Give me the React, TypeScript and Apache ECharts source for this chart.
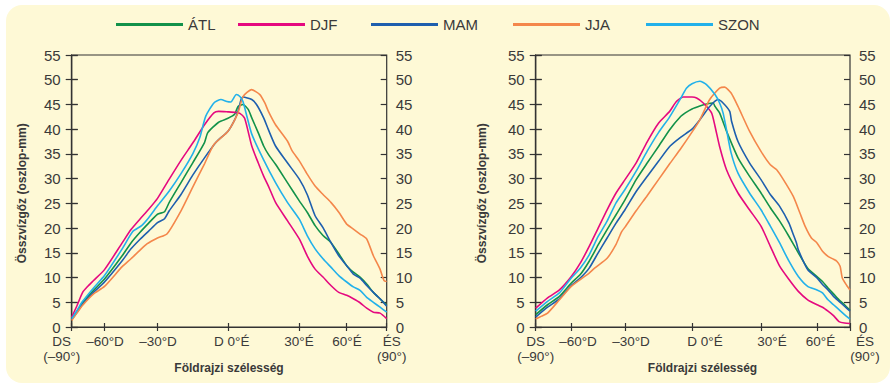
import React, { useEffect, useRef } from "react";
import * as echarts from "echarts";

// ---------- data (latitude in degrees, total water vapour in mm) ----------
const seriesNames = ["ÁTL", "DJF", "MAM", "JJA", "SZON"];

const leftATL: [number, number][] = [[-90,1.7],[-85,3.2],[-80,4.9],[-70,7.4],[-60,9.7],[-50,14.4],[-45,17.0],[-40,19.1],[-35,21.0],[-30,22.8],[-27,23.3],[-25,25.2],[-20,29.2],[-15,33.2],[-10,37.3],[-8.6,39.3],[-4,41.4],[0,42.2],[2.8,43.0],[4.2,44.6],[6.3,45.0],[8.5,44.0],[10,42.3],[12.7,39.3],[15,36.6],[17,34.9],[20,32.9],[25,29.2],[30,25.5],[35,23.2],[40,20.5],[45,18.5],[50,17.1],[55,14.8],[60,12.4],[65,11.1],[70,10.1],[75,8.7],[80,7.0],[85,5.7],[90,4.4]];
const leftDJF: [number, number][] = [[-90,2.0],[-85,4.4],[-80,7.0],[-75,8.3],[-70,9.4],[-60,11.6],[-50,17.0],[-45,19.7],[-40,21.8],[-35,23.8],[-30,26.0],[-25,29.9],[-20,33.7],[-15,37.2],[-10,40.9],[-6,43.3],[-4,43.6],[0,43.5],[3,43.4],[5,43.2],[7,42.2],[10,36.6],[12.7,33.2],[15,30.5],[17,28.5],[20,25.2],[25,21.5],[30,17.8],[35,14.4],[40,11.7],[45,10.1],[50,8.4],[55,7.0],[60,6.4],[65,5.7],[70,4.9],[75,3.8],[80,3.0],[85,2.8],[90,1.7]];
const leftMAM: [number, number][] = [[-90,1.5],[-85,3.0],[-80,4.6],[-70,7.0],[-60,9.1],[-50,13.4],[-45,15.8],[-40,17.7],[-35,19.4],[-30,21.1],[-27,21.9],[-25,23.5],[-20,26.8],[-15,30.7],[-10,34.2],[-5,37.4],[0,39.6],[2.8,41.9],[4.2,43.6],[5.5,46.0],[6.3,46.5],[10,46.0],[12,45.0],[15,42.3],[17,39.9],[20,36.6],[25,33.2],[30,29.9],[35,26.8],[40,22.5],[45,20.1],[50,17.1],[55,14.4],[60,12.4],[65,10.7],[70,9.9],[75,8.4],[80,7.0],[85,5.7],[90,4.2]];
const leftJJA: [number, number][] = [[-90,1.3],[-85,2.9],[-80,4.4],[-70,6.7],[-60,8.2],[-50,12.2],[-45,13.8],[-40,15.5],[-36,16.8],[-30,18.0],[-26,18.8],[-20,23.5],[-15,28.3],[-10,33.0],[-6,36.9],[0,39.6],[4.2,43.3],[6.3,46.6],[9.9,48.0],[13.4,47.0],[15.5,45.3],[17,43.6],[20,40.9],[25,37.6],[27,35.6],[30,33.6],[35,30.9],[40,28.5],[45,26.8],[50,25.2],[55,23.2],[60,20.8],[65,19.8],[70,18.8],[75,17.8],[80,14.4],[85,11.7],[88,9.4],[90,9.2]];
const leftSZON: [number, number][] = [[-90,1.7],[-85,3.4],[-80,5.2],[-70,7.9],[-60,10.4],[-50,15.8],[-44,19.3],[-39,20.5],[-35,22.1],[-30,24.5],[-25,27.5],[-20,31.0],[-15,35.0],[-12,38.3],[-9.5,42.6],[-6,45.3],[-3,46.0],[-0.5,45.6],[1.2,45.5],[3.5,47.0],[5,46.6],[6.3,45.6],[8,42.5],[10,39.0],[15,33.8],[20,29.2],[25,25.2],[30,21.8],[35,18.5],[40,15.8],[45,13.8],[50,12.1],[55,10.4],[60,9.1],[65,8.1],[70,7.4],[75,6.0],[80,5.0],[85,4.0],[90,3.0]];

const rightATL: [number, number][] = [[-90,2.5],[-80,4.5],[-70,6.2],[-60,8.9],[-55,10.6],[-50,13.3],[-45,16.6],[-40,19.7],[-35,22.7],[-30,25.7],[-25,29.8],[-20,33.2],[-15,36.5],[-10,39.9],[-5,42.6],[-3,43.3],[0,44.1],[3.4,44.7],[6.3,45.1],[9.2,45.3],[10,44.6],[12,43.3],[15,39.6],[20,34.2],[25,30.5],[30,27.1],[35,24.1],[40,21.4],[45,18.3],[50,15.0],[55,11.9],[60,10.2],[65,9.2],[70,7.9],[75,6.7],[80,5.5],[85,4.5],[90,3.4]];
const rightDJF: [number, number][] = [[-90,3.8],[-80,5.9],[-70,7.5],[-60,10.2],[-55,12.9],[-50,16.3],[-45,20.0],[-40,23.7],[-35,27.1],[-30,29.8],[-25,33.2],[-20,37.5],[-15,41.2],[-10,43.6],[-7,45.6],[-4,46.5],[0,46.5],[2,46.3],[4.9,45.3],[8.5,43.3],[10,40.6],[12,36.5],[15,31.8],[20,27.1],[25,23.7],[30,20.4],[35,16.3],[40,12.3],[45,9.6],[50,7.2],[55,5.5],[60,4.5],[65,4.0],[70,3.2],[75,2.3],[80,1.1],[85,0.8],[90,0.7]];
const rightMAM: [number, number][] = [[-90,2.0],[-80,4.0],[-70,5.7],[-60,8.4],[-55,9.9],[-50,11.9],[-45,15.0],[-40,18.0],[-35,21.0],[-30,23.7],[-25,27.4],[-20,30.5],[-15,33.5],[-10,36.5],[-5,38.4],[0,40.0],[3.4,41.9],[7.7,44.6],[11.3,46.0],[13.5,45.3],[16.4,43.6],[17.2,41.6],[20,37.5],[25,33.2],[30,29.8],[35,26.8],[40,24.4],[45,21.0],[47.3,18.7],[49,17.0],[50,15.6],[55,11.6],[60,9.9],[65,8.6],[70,7.5],[75,6.2],[80,5.2],[85,4.2],[90,3.2]];
const rightJJA: [number, number][] = [[-90,1.6],[-85,2.2],[-80,2.8],[-70,5.5],[-60,8.2],[-50,10.9],[-47,11.9],[-40,13.9],[-35,16.7],[-32,19.2],[-30,20.2],[-25,23.5],[-20,26.6],[-15,29.8],[-10,33.0],[-5,36.1],[0,39.4],[3.4,41.9],[7.7,46.0],[12,48.3],[14.2,48.5],[17,47.3],[20,44.6],[25,39.6],[30,35.5],[35,32.8],[38.4,31.8],[42,29.8],[47.3,26.4],[50.9,23.0],[53.6,20.4],[57,18.0],[60,17.0],[65,15.3],[70,14.3],[75,13.7],[78,13.3],[81,12.3],[83,9.9],[87,8.4],[90,7.5]];
const rightSZON: [number, number][] = [[-90,3.2],[-80,5.2],[-70,6.9],[-60,9.9],[-55,11.9],[-50,14.6],[-45,18.3],[-40,21.4],[-35,25.1],[-30,27.8],[-25,31.5],[-20,35.6],[-15,39.3],[-10,42.5],[-5,46.3],[-2.5,48.3],[0,49.2],[3.4,49.7],[6.3,49.0],[10,47.0],[12,45.3],[13.5,43.3],[15,39.9],[17,35.2],[20,31.1],[25,27.1],[30,23.7],[35,20.4],[40,17.0],[45,13.3],[50,10.2],[55,8.2],[60,7.5],[65,6.9],[70,5.5],[75,4.5],[80,3.5],[85,2.5],[90,1.6]];

const latTicks = [-90, -60, -30, 0, 30, 60, 90];
const tickLabels = ["DS\n(–90°)", "–60°D", "–30°D", "D 0°É", "30°É", "60°É", "ÉS\n(90°)"];
const yMin = 0;
const yMax = 55;
const yStep = 5;

// ---------- layout (the x axis of the original is not linear in latitude) ----------
const LEFT_TICK_POS = [0, 32.8, 85.8, 156.3, 227.6, 275, 315];
const RIGHT_TICK_POS = [0, 35.6, 89.3, 156.3, 225.3, 281.3, 314.3];
const LEFT_LABEL_POS = [0, 33.3, 86.3, 160, 227.3, 275.3, 315];
const RIGHT_LABEL_POS = [0, 42.3, 95.3, 169.3, 236.3, 284.8, 314.3];
const LEFT_END_PAD = [20, 10];
const RIGHT_END_PAD = [0, 30];

const COLORS = ["#13924a", "#e5097f", "#1e5fae", "#f4874b", "#22b1ea"];
const AXIS = "#333333";
const TEXT = "#3a3a3a";
const BG = "#fef9d6";
const FONT = '"Liberation Sans", Arial, Helvetica, sans-serif';

function latToPos(lat: number, pos: number[]) {
  for (let i = 0; i < latTicks.length - 1; i++) {
    const a = latTicks[i], b = latTicks[i + 1];
    if (lat <= b || i === latTicks.length - 2) {
      const t = (lat - a) / (b - a);
      return pos[i] + t * (pos[i + 1] - pos[i]);
    }
  }
  return pos[pos.length - 1];
}

function buildOption() {
  const charts = [
    { left: 71.7, width: 315, tickPos: LEFT_TICK_POS, labelPos: LEFT_LABEL_POS, pad: LEFT_END_PAD, data: [leftATL, leftDJF, leftMAM, leftJJA, leftSZON] },
    { left: 535.7, width: 314.3, tickPos: RIGHT_TICK_POS, labelPos: RIGHT_LABEL_POS, pad: RIGHT_END_PAD, data: [rightATL, rightDJF, rightMAM, rightJJA, rightSZON] },
  ];
  const grid: any[] = [];
  const xAxis: any[] = [];
  const yAxis: any[] = [];
  const series: any[] = [];
  const lineStyle = { color: AXIS, width: 1.2 };
  const base = { fontSize: 13.5, color: TEXT, fontFamily: FONT, lineHeight: 15 };

  charts.forEach((c, gi) => {
    grid.push({ left: c.left, top: 55, width: c.width, height: 272, show: true, borderColor: AXIS, borderWidth: 1.2, backgroundColor: "transparent" });
    const nearest = (v: number) => {
      let idx = 0, best = Infinity;
      c.labelPos.forEach((p, i) => { const d = Math.abs(p - v); if (d < best) { best = d; idx = i; } });
      return idx;
    };
    const inner = c.labelPos.slice(1, -1);
    const ends = [c.labelPos[0], c.labelPos[c.labelPos.length - 1]];
    xAxis.push({
      type: "value", gridIndex: gi, min: 0, max: c.width, position: "bottom",
      axisLine: { show: true, lineStyle }, splitLine: { show: false },
      axisTick: { show: true, inside: false, length: 4, customValues: c.tickPos, lineStyle },
      axisLabel: { show: true, customValues: inner, formatter: (v: number) => tickLabels[nearest(v)], margin: 7, ...base, hideOverlap: false },
    });
    xAxis.push({
      type: "value", gridIndex: gi, min: 0, max: c.width, position: "bottom", offset: 0,
      axisLine: { show: false }, splitLine: { show: false },
      axisTick: { show: true, inside: true, length: 4, customValues: c.tickPos, lineStyle },
      axisLabel: { show: false },
    });
    xAxis.push({
      type: "value", gridIndex: gi, min: 0, max: c.width, position: "bottom", offset: 0,
      axisLine: { show: false }, splitLine: { show: false }, axisTick: { show: false },
      axisLabel: {
        show: true, customValues: ends, margin: 7, ...base, showMinLabel: true, showMaxLabel: true, hideOverlap: false,
        formatter: (v: number) => {
          const idx = nearest(v);
          const key = idx === 0 ? "s" : "e";
          return tickLabels[idx].split("\n").map((l) => `{${key}|${l}}`).join("\n");
        },
        rich: {
          s: { ...base, padding: [0, c.pad[0], 0, 0] },
          e: { ...base, padding: [0, 0, 0, c.pad[1]] },
        },
      },
    });
    const yBase = { type: "value", gridIndex: gi, min: yMin, max: yMax, interval: yStep, splitLine: { show: false } };
    const yLab = { fontSize: 15, color: TEXT, fontFamily: FONT };
    yAxis.push({ ...yBase, position: "left", axisLine: { show: true, lineStyle }, axisTick: { show: true, inside: false, length: 6, lineStyle }, axisLabel: { ...yLab, margin: 11 } });
    yAxis.push({ ...yBase, position: "left", offset: 0, axisLine: { show: false }, axisTick: { show: true, inside: true, length: 6, lineStyle }, axisLabel: { show: false } });
    yAxis.push({ ...yBase, position: "right", offset: 0, axisLine: { show: true, lineStyle }, axisTick: { show: true, inside: false, length: 6, lineStyle }, axisLabel: { ...yLab, margin: 9 } });
    yAxis.push({ ...yBase, position: "right", offset: 0, axisLine: { show: false }, axisTick: { show: true, inside: true, length: 6, lineStyle }, axisLabel: { show: false } });

    c.data.forEach((d, si) => {
      series.push({
        name: seriesNames[si], type: "line", xAxisIndex: gi * 3, yAxisIndex: gi * 4,
        data: d.map(([lat, v]) => [latToPos(lat, c.tickPos), v]),
        showSymbol: false, symbol: "none", smooth: 0.2,
        lineStyle: { color: COLORS[si], width: 1.6 }, itemStyle: { color: COLORS[si] },
      });
    });
  });

  const legendLeft = [111, 233, 366, 508, 641];
  const legend = seriesNames.map((n, i) => ({
    data: [n], left: legendLeft[i], top: 12, itemWidth: 67, itemHeight: 3, icon: "rect", itemGap: 0,
    selectedMode: false, textStyle: { fontSize: 15, color: TEXT, fontFamily: FONT },
  }));

  const txt = (text: string, x: number, y: number, rot = 0) => ({
    type: "text", x, y, rotation: rot, z: 10,
    style: { text, font: `bold 12px ${FONT}`, fill: TEXT, textAlign: "center", textVerticalAlign: "middle", align: "center", verticalAlign: "middle" },
  });

  return {
    animation: false,
    backgroundColor: "#ffffff",
    grid, xAxis, yAxis, series, legend,
    graphic: [
      { type: "rect", z: -100, shape: { x: 6, y: 5, width: 884, height: 378, r: 16 }, style: { fill: BG } },
      txt("Földrajzi szélesség", 229, 368),
      txt("Földrajzi szélesség", 702.5, 368),
      txt("Összvízgőz (oszlop-mm)", 21.7, 193.3, Math.PI / 2),
      txt("Összvízgőz (oszlop-mm)", 481.5, 193.3, Math.PI / 2),
    ],
  };
}

export default function App() {
  const ref = useRef<HTMLDivElement>(null);
  useEffect(() => {
    document.body.style.margin = "0";
    const chart = echarts.init(ref.current!, null, { renderer: "svg" });
    chart.setOption(buildOption() as any);
    return () => chart.dispose();
  }, []);
  return <div ref={ref} style={{ width: 893, height: 385 }} />;
}
